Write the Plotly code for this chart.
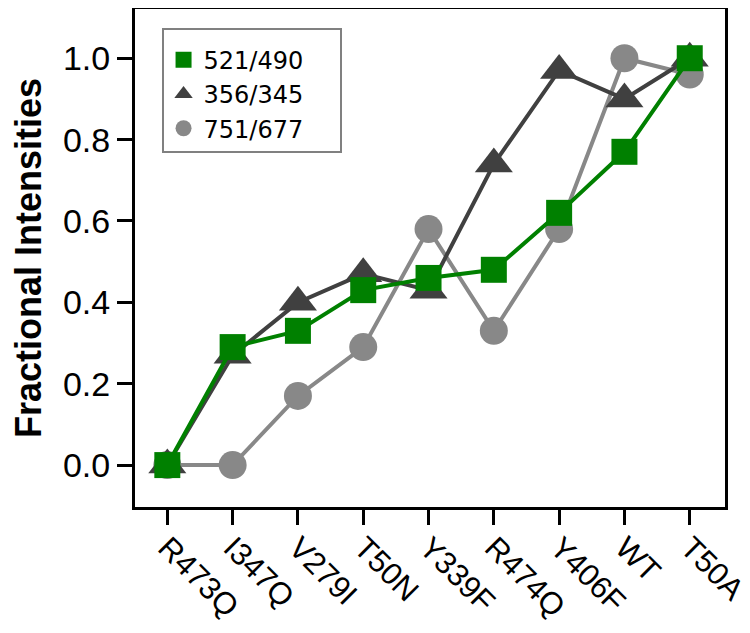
import plotly.graph_objects as go

categories = ["R473Q", "I347Q", "V279I", "T50N", "Y339F", "R474Q", "Y406F", "WT", "T50A"]
s521_490 = [0.0, 0.29, 0.33, 0.43, 0.46, 0.48, 0.62, 0.77, 1.0]
s356_345 = [0.0, 0.27, 0.40, 0.47, 0.43, 0.74, 0.97, 0.90, 1.0]
s751_677 = [0.0, 0.0, 0.17, 0.29, 0.58, 0.33, 0.58, 1.0, 0.96]
y_ticks = [0.0, 0.2, 0.4, 0.6, 0.8, 1.0]

xs = list(range(len(categories)))

GREEN = "#008000"
DARK = "#404040"
GRAY = "#888888"
PAD = "\u00a0" * 4

fig = go.Figure()

# data traces (drawn bottom to top: circles, triangles, squares)
fig.add_trace(go.Scatter(x=xs, y=s751_677, mode="lines+markers", showlegend=False,
                         line=dict(color=GRAY, width=4),
                         marker=dict(symbol="circle", size=28, color=GRAY)))
fig.add_trace(go.Scatter(x=xs, y=s356_345, mode="lines+markers", showlegend=False,
                         line=dict(color=DARK, width=4),
                         marker=dict(symbol="triangle-up", size=33, color=DARK)))
fig.add_trace(go.Scatter(x=xs, y=s521_490, mode="lines+markers", showlegend=False,
                         line=dict(color=GREEN, width=4),
                         marker=dict(symbol="square", size=26, color=GREEN)))

# legend-only entries (markers only)
fig.add_trace(go.Scatter(x=[None], y=[None], mode="markers", name="521/490" + PAD,
                         marker=dict(symbol="square", size=16, color=GREEN)))
fig.add_trace(go.Scatter(x=[None], y=[None], mode="markers", name="356/345" + PAD,
                         marker=dict(symbol="triangle-up", size=16, color=DARK)))
fig.add_trace(go.Scatter(x=[None], y=[None], mode="markers", name="751/677" + PAD,
                         marker=dict(symbol="circle", size=16, color=GRAY)))

tick_family = "Liberation Sans, Arial, sans-serif"

# page body has an 8px default margin, so the figure is 8px smaller than the window
fig.update_layout(
    width=742, height=625,
    margin=dict(l=127, r=25, t=1, b=126),
    plot_bgcolor="white", paper_bgcolor="white",
    font=dict(family=tick_family, color="black"),
    legend=dict(x=0.045, y=0.962, xanchor="left", yanchor="top",
                bordercolor="#808080", borderwidth=2, bgcolor="white",
                title=dict(text="\u00a0", font=dict(size=6)),
                font=dict(family="DejaVu Sans", size=24, color="black")),
    xaxis=dict(range=[-0.495, 8.54], tickmode="array", tickvals=xs, ticktext=categories,
               tickangle=45, ticks="outside", ticklen=15, tickwidth=2.5, tickcolor="black",
               showline=True, linecolor="black", linewidth=3, mirror=True,
               showgrid=False, zeroline=False, ticklabeloverflow="allow",
               automargin=False, ticklabelstandoff=-8,
               tickfont=dict(size=31, family=tick_family)),
    yaxis=dict(range=[-0.103, 1.121], tickmode="array", tickvals=y_ticks,
               ticktext=[f"{v:.1f}" for v in y_ticks],
               ticks="outside", ticklen=15, tickwidth=2.5, tickcolor="black",
               showline=True, linecolor="black", linewidth=3, mirror=True,
               showgrid=False, zeroline=False, automargin=False,
               tickfont=dict(size=34, family=tick_family),
               title=dict(text="<b>Fractional Intensities</b>", standoff=34,
                          font=dict(size=36, family=tick_family))),
)

fig.write_html("out.html")
